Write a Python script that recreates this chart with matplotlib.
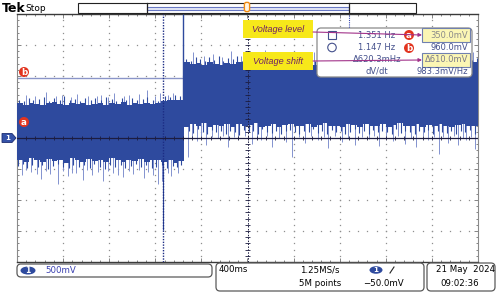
import numpy as np
import matplotlib
matplotlib.use("Agg")
import matplotlib.pyplot as plt
from matplotlib.patches import FancyBboxPatch, Rectangle, Polygon, Circle, Ellipse

# Escalas del osciloscopio (500 mV/div, 400 ms/div, 10 x 8 divisiones)
t_min, t_max = -2.0, 2.0
v_min, v_max = -2.0, 2.0

# Envolvente de la traza (max/min cada 50 ms)
t_env = np.round(np.arange(-2.0, 2.001, 0.05), 2)
env_top = [
    0.56, 0.54, 0.57, 0.55, 0.53, 0.56, 0.58, 0.55, 0.54, 0.57,
    0.55, 0.56, 0.53, 0.55, 0.57, 0.54, 0.56, 0.55, 0.58, 0.54,
    0.56, 0.55, 0.57, 0.55, 0.56, 0.60, 0.62, 0.61, 0.62,
    1.22, 1.19, 1.21, 1.18, 1.23, 1.20, 1.17, 1.21, 1.19, 1.22,
    1.20, 1.18, 1.21, 1.23, 1.19, 1.20, 1.22, 1.18, 1.21, 1.19,
    1.20, 1.23, 1.18, 1.21, 1.20, 1.19, 1.22, 1.20, 1.18, 1.21,
    1.19, 1.22, 1.20, 1.21, 1.18, 1.20, 1.22, 1.19, 1.21, 1.20,
    1.18, 1.22, 1.19, 1.21, 1.20, 1.23, 1.19, 1.20, 1.21, 1.18,
    1.22, 1.20,
]
env_bot = [
    -0.35, -0.38, -0.33, -0.36, -0.39, -0.34, -0.37, -0.35, -0.40, -0.33,
    -0.36, -0.38, -0.34, -0.37, -0.35, -0.39, -0.33, -0.36, -0.38, -0.35,
    -0.37, -0.34, -0.39, -0.36, -0.35, -0.38, -0.36, -0.40, -0.37,
    0.18, 0.22, 0.19, 0.24, 0.17, 0.21, 0.20, 0.23, 0.18, 0.22,
    0.19, 0.21, 0.24, 0.18, 0.20, 0.22, 0.17, 0.21, 0.23, 0.19,
    0.20, 0.22, 0.18, 0.21, 0.24, 0.19, 0.20, 0.17, 0.22, 0.21,
    0.18, 0.23, 0.20, 0.19, 0.22, 0.18, 0.21, 0.24, 0.20, 0.19,
    0.22, 0.18, 0.21, 0.20, 0.23, 0.19, 0.17, 0.21, 0.22, 0.20,
    0.19, 0.21,
]

# Picos cortos (oscuros) y largos (claros) fuera de la envolvente
pre_up_t = [-1.98, -1.94, -1.90, -1.86, -1.81, -1.77, -1.72, -1.68, -1.63, -1.59, -1.54,
            -1.50, -1.45, -1.41, -1.36, -1.32, -1.27, -1.23, -1.18, -1.14, -1.09, -1.05,
            -1.00, -0.96, -0.91, -0.87, -0.82, -0.78, -0.72, -0.67, -0.63, -0.59]
pre_up_v = [0.62, 0.60, 0.65, 0.61, 0.63, 0.66, 0.60, 0.64, 0.62, 0.67, 0.61,
            0.63, 0.60, 0.65, 0.62, 0.64, 0.61, 0.66, 0.63, 0.60, 0.65, 0.62,
            0.64, 0.61, 0.63, 0.66, 0.62, 0.60, 0.68, 0.66, 0.69, 0.67]
pre_dn_t = [-1.99, -1.95, -1.91, -1.87, -1.82, -1.78, -1.73, -1.69, -1.64, -1.60, -1.55,
            -1.51, -1.46, -1.42, -1.37, -1.33, -1.28, -1.24, -1.19, -1.15, -1.10, -1.06,
            -1.01, -0.97, -0.92, -0.88, -0.83, -0.79, -0.74, -0.70, -0.65, -0.61, -0.58]
pre_dn_v = [-0.45, -0.42, -0.48, -0.44, -0.47, -0.43, -0.50, -0.45, -0.42, -0.46, -0.49,
            -0.43, -0.47, -0.44, -0.48, -0.42, -0.46, -0.50, -0.44, -0.47, -0.43, -0.48,
            -0.45, -0.42, -0.47, -0.44, -0.49, -0.46, -0.43, -0.48, -0.45, -0.47, -0.44]
post_up_t = [-0.53, -0.49, -0.45, -0.41, -0.37, -0.33, -0.29, -0.25,
             -0.21, -0.17, -0.13, -0.09, -0.05, -0.01, 0.03, 0.07,
             0.11, 0.15, 0.19, 0.23, 0.27, 0.31, 0.35, 0.39,
             0.43, 0.47, 0.51, 0.55, 0.59, 0.63, 0.67, 0.71,
             0.75, 0.79, 0.83, 0.87, 0.91, 0.95, 0.99, 1.03,
             1.07, 1.11, 1.15, 1.19, 1.23, 1.27, 1.31, 1.35,
             1.39, 1.43, 1.47, 1.51, 1.55, 1.59, 1.63, 1.67,
             1.71, 1.75, 1.79, 1.83, 1.87, 1.91, 1.95, 1.99]
post_up_v = [1.28, 1.25, 1.31, 1.27, 1.24, 1.30, 1.26, 1.33,
             1.25, 1.29, 1.27, 1.32, 1.24, 1.28, 1.30, 1.26,
             1.25, 1.31, 1.27, 1.29, 1.24, 1.33, 1.26, 1.28,
             1.30, 1.25, 1.27, 1.32, 1.24, 1.29, 1.26, 1.31,
             1.28, 1.25, 1.30, 1.27, 1.33, 1.24, 1.28, 1.26,
             1.31, 1.29, 1.25, 1.27, 1.32, 1.26, 1.28, 1.24,
             1.30, 1.27, 1.25, 1.31, 1.28, 1.26, 1.29, 1.33,
             1.25, 1.27, 1.30, 1.24, 1.28, 1.31, 1.26, 1.29]
post_dn_t = [-0.51, -0.47, -0.43, -0.39, -0.35, -0.31, -0.27, -0.23,
             -0.19, -0.15, -0.11, -0.07, -0.03, 0.01, 0.05, 0.09,
             0.13, 0.17, 0.21, 0.25, 0.29, 0.33, 0.37, 0.41,
             0.45, 0.49, 0.53, 0.57, 0.61, 0.65, 0.69, 0.73,
             0.77, 0.81, 0.85, 0.89, 0.93, 0.97, 1.01, 1.05,
             1.09, 1.13, 1.17, 1.21, 1.25, 1.29, 1.33, 1.37,
             1.41, 1.45, 1.49, 1.53, 1.57, 1.61, 1.65, 1.69,
             1.73, 1.77, 1.81, 1.85, 1.89, 1.93, 1.97, 2.00]
post_dn_v = [0.12, 0.08, 0.14, 0.10, 0.06, 0.13, 0.09, 0.11,
             0.07, 0.12, 0.10, 0.05, 0.13, 0.09, 0.11, 0.07,
             0.14, 0.10, 0.08, 0.12, 0.06, 0.11, 0.13, 0.09,
             0.07, 0.12, 0.10, 0.14, 0.08, 0.11, 0.06, 0.13,
             0.09, 0.12, 0.07, 0.10, 0.14, 0.08, 0.11, 0.06,
             0.13, 0.09, 0.12, 0.10, 0.07, 0.14, 0.08, 0.11,
             0.10, 0.06, 0.12, 0.09, 0.13, 0.07, 0.11, 0.10,
             0.08, 0.12, 0.06, 0.11, 0.09, 0.13, 0.07, 0.10]

pre_up_light_t = [-1.92, -1.84, -1.75, -1.66, -1.61, -1.53, -1.48, -1.38, -1.31, -1.27,
                  -1.21, -1.16, -1.07, -1.03, -0.94, -0.87, -0.80, -0.76, -0.69, -0.65]
pre_up_light_v = [0.70, 0.67, 0.74, 0.68, 0.69, 0.66, 0.71, 0.68, 0.67, 0.70,
                  0.66, 0.72, 0.68, 0.69, 0.71, 0.77, 0.68, 0.73, 0.70, 0.72]
pre_dn_light_t = [-1.96, -1.92, -1.88, -1.83, -1.79, -1.75, -1.71, -1.64, -1.60, -1.56,
                  -1.52, -1.49, -1.43, -1.39, -1.35, -1.30, -1.25, -1.21, -1.17, -1.12,
                  -1.08, -1.03, -0.99, -0.94, -0.90, -0.86, -0.82, -0.78, -0.74, -0.69,
                  -0.66, -0.60]
pre_dn_light_v = [-0.60, -0.52, -0.55, -0.58, -0.66, -0.53, -0.58, -0.74, -0.54, -0.62,
                  -0.56, -0.57, -0.68, -0.52, -0.59, -0.55, -0.69, -0.53, -0.56, -0.60,
                  -0.63, -0.54, -0.58, -0.52, -0.65, -0.55, -0.60, -0.74, -0.70, -0.56,
                  -0.62, -0.57]
post_up_light_t = [-0.47, -0.38, -0.30, -0.22, -0.14, -0.06, 0.02, 0.09, 0.15, 0.22,
                   0.29, 0.35, 0.41, 0.50, 0.58, 0.65, 0.72, 0.80, 0.88, 0.95,
                   1.02, 1.09, 1.16, 1.23, 1.30, 1.37, 1.44, 1.51, 1.58, 1.64,
                   1.71, 1.78, 1.84, 1.90, 1.96]
post_up_light_v = [1.38, 1.32, 1.35, 1.31, 1.40, 1.33, 1.36, 1.31, 1.42, 1.33,
                   1.37, 1.32, 1.34, 1.31, 1.39, 1.33, 1.36, 1.32, 1.41, 1.31,
                   1.35, 1.33, 1.38, 1.31, 1.37, 1.32, 1.40, 1.33, 1.34, 1.31,
                   1.39, 1.32, 1.36, 1.33, 1.38]
post_dn_light_t = [-0.52, -0.48, -0.44, -0.40, -0.36, -0.31, -0.26, -0.21, -0.17, -0.12,
                   -0.08, -0.02, 0.04, 0.08, 0.12, 0.17, 0.21, 0.27, 0.33, 0.39,
                   0.45, 0.50, 0.55, 0.61, 0.66, 0.70, 0.76, 0.82, 0.87, 0.93,
                   0.99, 1.05, 1.10, 1.14, 1.20, 1.26, 1.31, 1.37, 1.42, 1.46,
                   1.52, 1.57, 1.62, 1.66, 1.70, 1.74, 1.79, 1.83, 1.87, 1.90,
                   1.94, 1.97]
post_dn_light_v = [-0.30, 0.02, -0.05, 0.04, -0.12, 0.01, 0.00, 0.03, -0.15, 0.02,
                   -0.02, 0.04, -0.10, 0.01, -0.04, 0.03, -0.14, 0.00, -0.06, -0.31,
                   0.02, -0.08, 0.03, -0.03, 0.01, -0.16, 0.03, -0.07, 0.00, -0.11,
                   0.02, -0.02, 0.04, -0.13, 0.01, -0.05, 0.03, -0.09, 0.00, -0.14,
                   0.03, -0.04, 0.01, -0.25, 0.02, -0.08, 0.04, -0.12, 0.00, -0.03,
                   0.02, -0.18]

# Eventos sueltos: salto de nivel y pico negativo
t_salto = -0.56
t_pico = -0.73
v_pico = -1.48

# Cursores y medidas
cursor_a = 0.35
cursor_b = 0.96
filas_medida = [
    ("1.351 Hz", "350.0mV"),
    ("1.147 Hz", "960.0mV"),
    ("\u0394620.3mHz", "\u0394610.0mV"),
    ("dV/dt", "983.3mV/Hz"),
]

azul = "#2e4a9e"
azul_claro = "#8392cf"
gris_txt = "#44508c"

fig = plt.figure(figsize=(5, 2.92), dpi=100)
fig.patch.set_facecolor("white")

# Reticula: x 17..478 px, y 14..262 px
ax = fig.add_axes([17 / 500, (292 - 262) / 292, 461 / 500, 248 / 292])
ax.set_xlim(t_min, t_max)
ax.set_ylim(v_min, v_max)
ax.set_facecolor("white")

# Puntos de la reticula
y_puntos = np.arange(-1.9, 1.91, 0.1)
x_puntos = np.arange(-1.92, 1.93, 0.08)
for xg in [-1.6, -1.2, -0.8, -0.4, 0.4, 0.8, 1.2, 1.6]:
    ax.plot(np.full(len(y_puntos), xg), y_puntos, ls="none", marker="s", ms=0.9,
            mew=0, color="#8f8f8f", zorder=1)
for yg in [-1.5, -1.0, -0.5, 0.5, 1.0, 1.5]:
    ax.plot(x_puntos, np.full(len(x_puntos), yg), ls="none", marker="s", ms=0.9,
            mew=0, color="#8f8f8f", zorder=1)

# Cursores horizontales (quedan tapados por la traza)
ax.axhline(cursor_a, color="#8a95c8", lw=1, zorder=1.5)
ax.axhline(cursor_b, color="#8a95c8", lw=1, zorder=1.5)

# Traza
ax.vlines(pre_up_light_t, 0.3, pre_up_light_v, color=azul_claro, lw=0.7, zorder=2)
ax.vlines(pre_dn_light_t, -0.1, pre_dn_light_v, color=azul_claro, lw=0.7, zorder=2)
ax.vlines(post_up_light_t, 0.8, post_up_light_v, color=azul_claro, lw=0.7, zorder=2)
ax.vlines(post_dn_light_t, 0.6, post_dn_light_v, color=azul_claro, lw=0.7, zorder=2)
ax.fill_between(t_env, env_bot, env_top, step="post", color=azul, lw=0, zorder=3)
ax.vlines(pre_up_t, 0.3, pre_up_v, color=azul, lw=0.8, zorder=3)
ax.vlines(pre_dn_t, -0.1, pre_dn_v, color=azul, lw=0.8, zorder=3)
ax.vlines(post_up_t, 0.8, post_up_v, color=azul, lw=0.8, zorder=3)
ax.vlines(post_dn_t, 0.6, post_dn_v, color=azul, lw=0.8, zorder=3)
ax.vlines(t_salto, 0.5, 2.0, color=azul, lw=1.0, zorder=3)
ax.vlines(t_pico, v_pico, 0.0, color=azul, lw=0.8, zorder=3)
ax.axvline(t_pico, color="#1c2c84", lw=1.0, ls=(0, (1, 1)), zorder=3.5)

# Ejes centrales con marcas
ax.axhline(0, color="#1c1c40", lw=0.9, zorder=4)
ax.vlines(x_puntos, -0.035, 0.035, color="#1c1c40", lw=0.6, zorder=4)
ax.axvline(0, color="#1c1c40", lw=0.7, ls=(0, (1.5, 1.5)), zorder=4)
ax.hlines(y_puntos, -0.025, 0.025, color="#1c1c40", lw=0.6, zorder=4)

ax.set_xticks(np.arange(-2.0, 2.01, 0.4))
ax.set_xticks(x_puntos, minor=True)
ax.set_yticks(np.arange(-2.0, 2.01, 0.5))
ax.set_yticks(y_puntos, minor=True)
ax.tick_params(which="both", direction="in", top=True, right=True,
               labelbottom=False, labelleft=False, color="#707070", width=0.6)
ax.tick_params(which="major", length=3)
ax.tick_params(which="minor", length=1.6)
for lado in ["left", "right"]:
    ax.spines[lado].set_color("#8a8a8a")
    ax.spines[lado].set_linewidth(0.8)
for lado in ["top", "bottom"]:
    ax.spines[lado].set_color("#3a3a3a")
    ax.spines[lado].set_linewidth(1.0)

# Capa de pixeles para los textos y recuadros del osciloscopio
ov = fig.add_axes([0, 0, 1, 1])
ov.set_xlim(0, 500)
ov.set_ylim(292, 0)
ov.axis("off")
ov.patch.set_alpha(0)
ov.set_zorder(5)

fuente = "DejaVu Sans"

# Barra superior
ov.text(2, 8.5, "Tek", fontsize=9, fontweight="bold", va="center", ha="left", family=fuente)
ov.text(25, 8.5, "Stop", fontsize=6.5, va="center", ha="left", family=fuente)
ov.add_patch(Rectangle((78, 3), 338, 10, facecolor="white", edgecolor="#222222", lw=0.8))
ov.add_patch(Rectangle((147, 6.5), 202, 3, facecolor="#e4e8f6", edgecolor="#6878c4", lw=0.8))
ov.plot([147, 147], [3, 13], color="#222222", lw=0.9)
ov.plot([349, 349], [3, 13], color="#222222", lw=0.9)
ov.add_patch(FancyBboxPatch((245, 3), 4, 8, boxstyle="round,pad=0.6,rounding_size=2",
                            facecolor="#fff4e0", edgecolor="#f08a10", lw=1.0))
ov.plot([349, 349], [15, 28], color="#3a4ab0", lw=0.8, ls=(0, (1, 1)))

# Marcador de tierra del canal 1
ov.add_patch(Polygon([(2, 133.5), (12, 133.5), (16, 138), (12, 142.5), (2, 142.5)],
                     closed=True, facecolor="#3552a8", edgecolor="#1c2c70", lw=0.6))
ov.text(8, 138.3, "1", color="white", fontsize=5, ha="center", va="center",
        fontweight="bold", family=fuente)


def circulo_letra(x, y, letra):
    ov.add_patch(Circle((x, y), 5, facecolor="#e2341f", edgecolor="none"))
    ov.text(x, y + 0.3, letra, color="white", fontsize=6.3, fontweight="bold",
            ha="center", va="center", family=fuente)


circulo_letra(24, 122, "a")
circulo_letra(24, 72, "b")

# Recuadro de medidas
ov.add_patch(FancyBboxPatch((317, 28), 155, 49, boxstyle="round,pad=0,rounding_size=4",
                            facecolor="white", edgecolor="#8a8a8a", lw=0.9))
filas_y = [35, 48, 60, 71.5]
ov.add_patch(Rectangle((328, 30.5), 8, 8, facecolor="none", edgecolor=gris_txt, lw=0.8))
ov.add_patch(Ellipse((332, 47.5), 8.5, 8.5, facecolor="none", edgecolor=gris_txt, lw=0.8))
for (izq, der), fy in zip(filas_medida, filas_y):
    ov.text(377, fy, izq, fontsize=6, color=gris_txt, ha="center", va="center", family=fuente)
ov.add_patch(Rectangle((422, 28), 48, 14, facecolor="#fbf6b4", edgecolor="#7080b0", lw=0.8))
ov.add_patch(Rectangle((422, 53), 48, 14, facecolor="#fbf6b4", edgecolor="#7080b0", lw=0.8))
colores_valor = ["#8a8a8a", gris_txt, "#7a7a8a", gris_txt]
for (izq, der), fy, col in zip(filas_medida, filas_y, colores_valor):
    ov.text(468, fy, der, fontsize=6, color=col, ha="right", va="center", family=fuente)
circulo_letra(409, 35, "a")
circulo_letra(409, 48, "b")

# Etiquetas amarillas con flechas
for texto, y0, y_ini, y_fin in [("Voltage level", 20, 32, 35), ("Voltage shift", 52, 61, 60)]:
    ov.add_patch(Rectangle((243, y0), 70, 18, facecolor="#f7e81a", edgecolor="none"))
    ov.text(278, y0 + 9, texto, fontsize=6.6, style="italic", color="#6e1f66",
            ha="center", va="center", family="Liberation Sans")
    ov.annotate("", xy=(422, y_fin), xytext=(313, y_ini),
                arrowprops=dict(arrowstyle="-|>", color="#a2338a", lw=0.8,
                                mutation_scale=5, shrinkA=0, shrinkB=0))

# Barra de estado inferior
ov.add_patch(FancyBboxPatch((17, 264), 195, 13, boxstyle="round,pad=0,rounding_size=4",
                            facecolor="white", edgecolor="#5a5a5a", lw=0.9))
ov.add_patch(Ellipse((28, 270.5), 15, 8, facecolor="#2e4a9e", edgecolor="none"))
ov.text(28, 270.8, "1", color="white", fontsize=5.5, ha="center", va="center",
        fontweight="bold", family=fuente)
ov.text(45, 270.5, "500mV", color="#3a40b0", fontsize=6.2, ha="left", va="center", family=fuente)

ov.add_patch(FancyBboxPatch((216, 263), 208, 28, boxstyle="round,pad=0,rounding_size=4",
                            facecolor="white", edgecolor="#5a5a5a", lw=0.9))
ov.text(219, 270, "400ms", fontsize=6.2, ha="left", va="center", family=fuente)
ov.text(320, 270, "1.25MS/s", fontsize=6.2, ha="center", va="center", family=fuente)
ov.text(320, 283, "5M points", fontsize=6.2, ha="center", va="center", family=fuente)
ov.add_patch(Ellipse((376, 270), 13, 7.5, facecolor="#2e4a9e", edgecolor="none"))
ov.text(376, 270.3, "1", color="white", fontsize=5.2, ha="center", va="center",
        fontweight="bold", family=fuente)
ov.plot([390, 394], [273, 267], color="#222222", lw=0.8)
ov.text(383, 283, "\u221250.0mV", fontsize=6.2, ha="center", va="center", family=fuente)

ov.add_patch(FancyBboxPatch((427, 263), 68, 28, boxstyle="round,pad=0,rounding_size=4",
                            facecolor="white", edgecolor="#5a5a5a", lw=0.9))
ov.text(466, 270, "21 May  2024", fontsize=6.2, ha="center", va="center", family=fuente)
ov.text(440, 283, "09:02:36", fontsize=6.2, ha="left", va="center", family=fuente)

fig.savefig("out.png", dpi=100)
